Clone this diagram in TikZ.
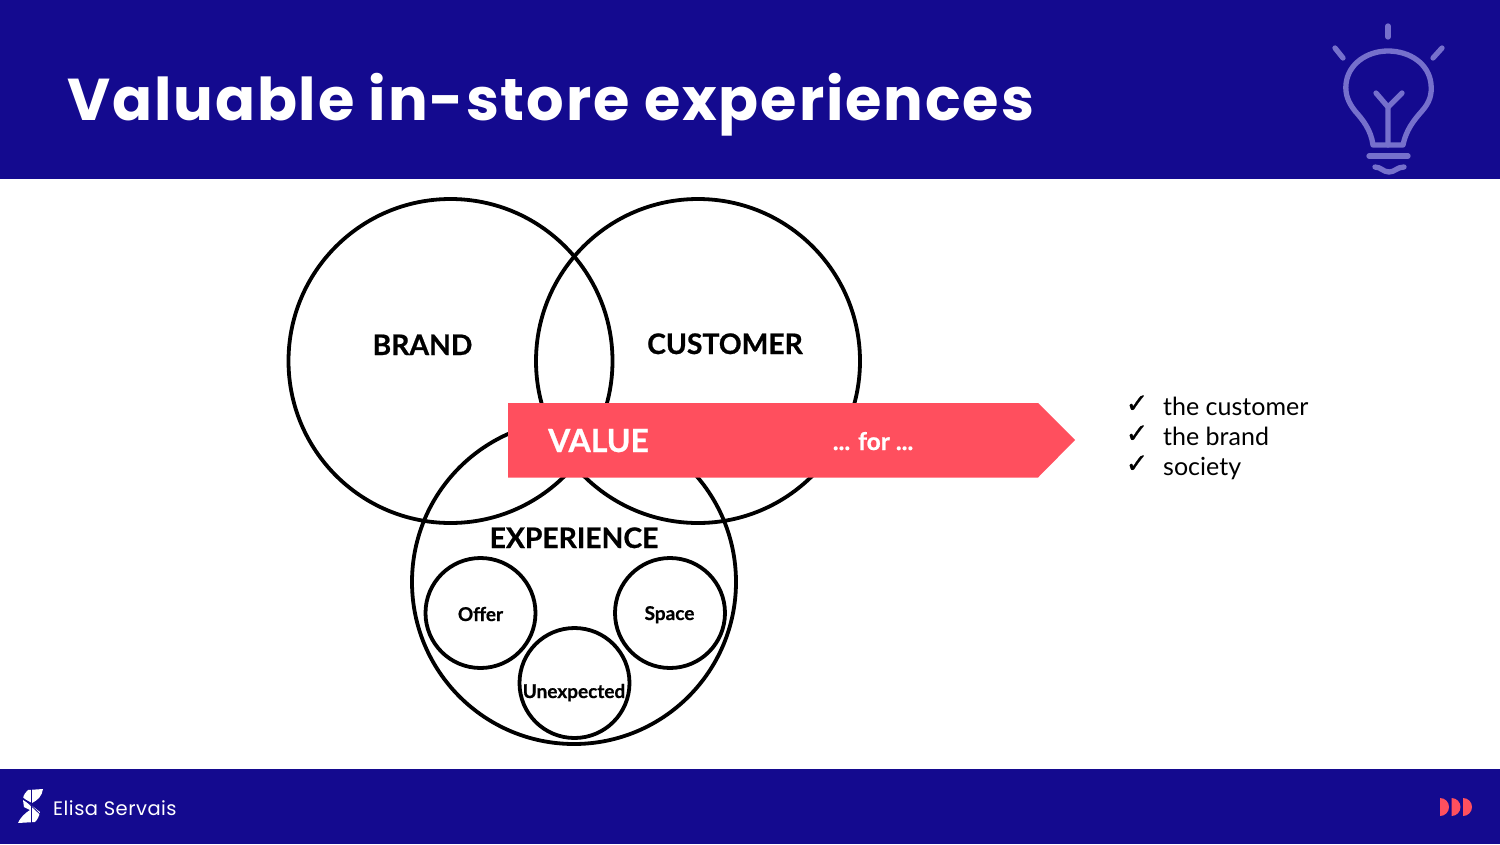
\documentclass[tikz,border=0pt]{standalone}
\usepackage{fontspec}
\setmainfont{Lato}[BoldFeatures={FakeBold=0.7}]
\newfontfamily\titlefont{Poppins}[LetterSpace=3.2]
\newfontfamily\logofont{Poppins}[LetterSpace=2.5]
\newfontfamily\symfont{DejaVu Sans}[FakeBold=0.8]
\definecolor{navy}{HTML}{140A8F}
\definecolor{valred}{HTML}{FF4F5E}
\definecolor{bulb}{HTML}{7670CC}
\tikzset{
  x=1pt,y=-1pt,
  ring/.style={draw=black,line width=3.8pt,circle,minimum size=#1,inner sep=0pt,outer sep=0pt},
  bigring/.style={ring=324pt},
  smallring/.style={ring=110pt},
  biglabel/.style={font=\bfseries\fontsize{28.3}{32}\selectfont,text=black,inner sep=0pt,anchor=base},
  smalllabel/.style={font=\bfseries\fontsize{19}{24}\selectfont,text=black,inner sep=0pt,anchor=base},
  listlabel/.style={font=\fontsize{25}{30}\selectfont,text=black,inner sep=0pt,anchor=base west},
  checklabel/.style={font=\symfont\fontsize{27}{30}\selectfont,text=black,inner sep=0pt},
  bulbline/.style={draw=bulb,line width=5.3pt,line cap=round,line join=round},
}
\begin{document}
\begin{tikzpicture}
\useasboundingbox (0,0) rectangle (1500,844);
\fill[white] (0,0) rectangle (1500,844);
\fill[navy] (0,0) rectangle (1500,179);
\fill[navy] (0,769) rectangle (1500,844);
\node[inner sep=0pt,anchor=base west,text=white,font=\titlefont\bfseries\fontsize{59}{70}\selectfont] (title) at (67,120) {Valuable in-store experiences};
% bulb
\draw[bulbline] (1388,26) -- (1388,37);
\draw[bulbline] (1335,48) -- (1343,58);
\draw[bulbline] (1442,48) -- (1433,58);
\draw[bulbline] (1373,145) .. controls (1371,130) and (1363,120) .. (1355,111)
  .. controls (1348,102) and (1345,94) .. (1346,84)
  .. controls (1348,64) and (1367,51) .. (1388,51)
  .. controls (1410,51) and (1429,64) .. (1431,84)
  .. controls (1432,94) and (1430,102) .. (1422,111)
  .. controls (1414,120) and (1406,130) .. (1403,145) -- cycle;
\draw[bulbline] (1388,145) -- (1388,107) -- (1376,93);
\draw[bulbline] (1388,107) -- (1402,93);
\draw[bulbline] (1369,156) -- (1408,156);
\draw[bulbline] (1375,167) .. controls (1381,167) and (1383,172) .. (1389,172) .. controls (1395,172) and (1397,167) .. (1404,167);
% footer logo
\fill[white] (28,790) -- (43,789) .. controls (42,796) and (38,800) .. (32,803) -- (23,798) .. controls (24,794) and (26,792) .. (28,790) -- cycle;
\fill[white] (23,800) -- (31,805) -- (40,812) .. controls (39,817) and (37,820) .. (35,822) -- (18,823) .. controls (20,818) and (25,813) .. (30,810) -- (24,807) -- cycle;
\draw[navy,line width=0.8pt] (31,788) -- (31,824);
\draw[navy,line width=0.8pt] (22,797) -- (41,815);
\node[inner sep=0pt,anchor=base west,text=white,font=\logofont\fontsize{19.5}{24}\selectfont] (brandname) at (53,815) {Elisa Servais};
\foreach \dx in {1440,1451.5,1463}{
  \fill[valred] (\dx,798) .. controls (\dx+5,798) and (\dx+9,802) .. (\dx+9,807) .. controls (\dx+9,812) and (\dx+5,816) .. (\dx,816) -- cycle;
}
% circles
\node[bigring] (brandc) at (450.5,361) {};
\node[bigring] (custc) at (698,361) {};
\node[bigring] (expc) at (574,582) {};
\node[smallring] (offerc) at (480.5,613) {};
\node[smallring] (spacec) at (670,613) {};
\node[smallring] (unexpc) at (574.5,683) {};
\fill[valred] (508,403) -- (1038,403) -- (1075,440) -- (1038,477.5) -- (508,477.5) -- cycle;
\node[biglabel] (brandt) at (422.5,355) {BRAND};
\node[biglabel] (custt) at (725,354) {CUSTOMER};
\node[biglabel] (expt) at (574,548) {EXPERIENCE};
\node[smalllabel] (offert) at (480.5,621) {Offer};
\node[smalllabel] (spacet) at (669.5,620) {Space};
\node[smalllabel] (unexpt) at (574,698) {Unexpected};
\node[inner sep=0pt,anchor=base,text=white,font=\bfseries\fontsize{32}{36}\selectfont] (valuet) at (598.5,452) {VALUE};
\node[inner sep=0pt,anchor=base,text=white,font=\bfseries\fontsize{24.5}{30}\selectfont] (fort) at (873,450) {... for ...};
\node[checklabel] (c1) at (1137,404) {✓};
\node[checklabel] (c2) at (1137,434) {✓};
\node[checklabel] (c3) at (1137,464) {✓};
\node[listlabel] (l1) at (1163,415) {the customer};
\node[listlabel] (l2) at (1163,445) {the brand};
\node[listlabel] (l3) at (1163,475) {society};
\end{tikzpicture}
\end{document}
